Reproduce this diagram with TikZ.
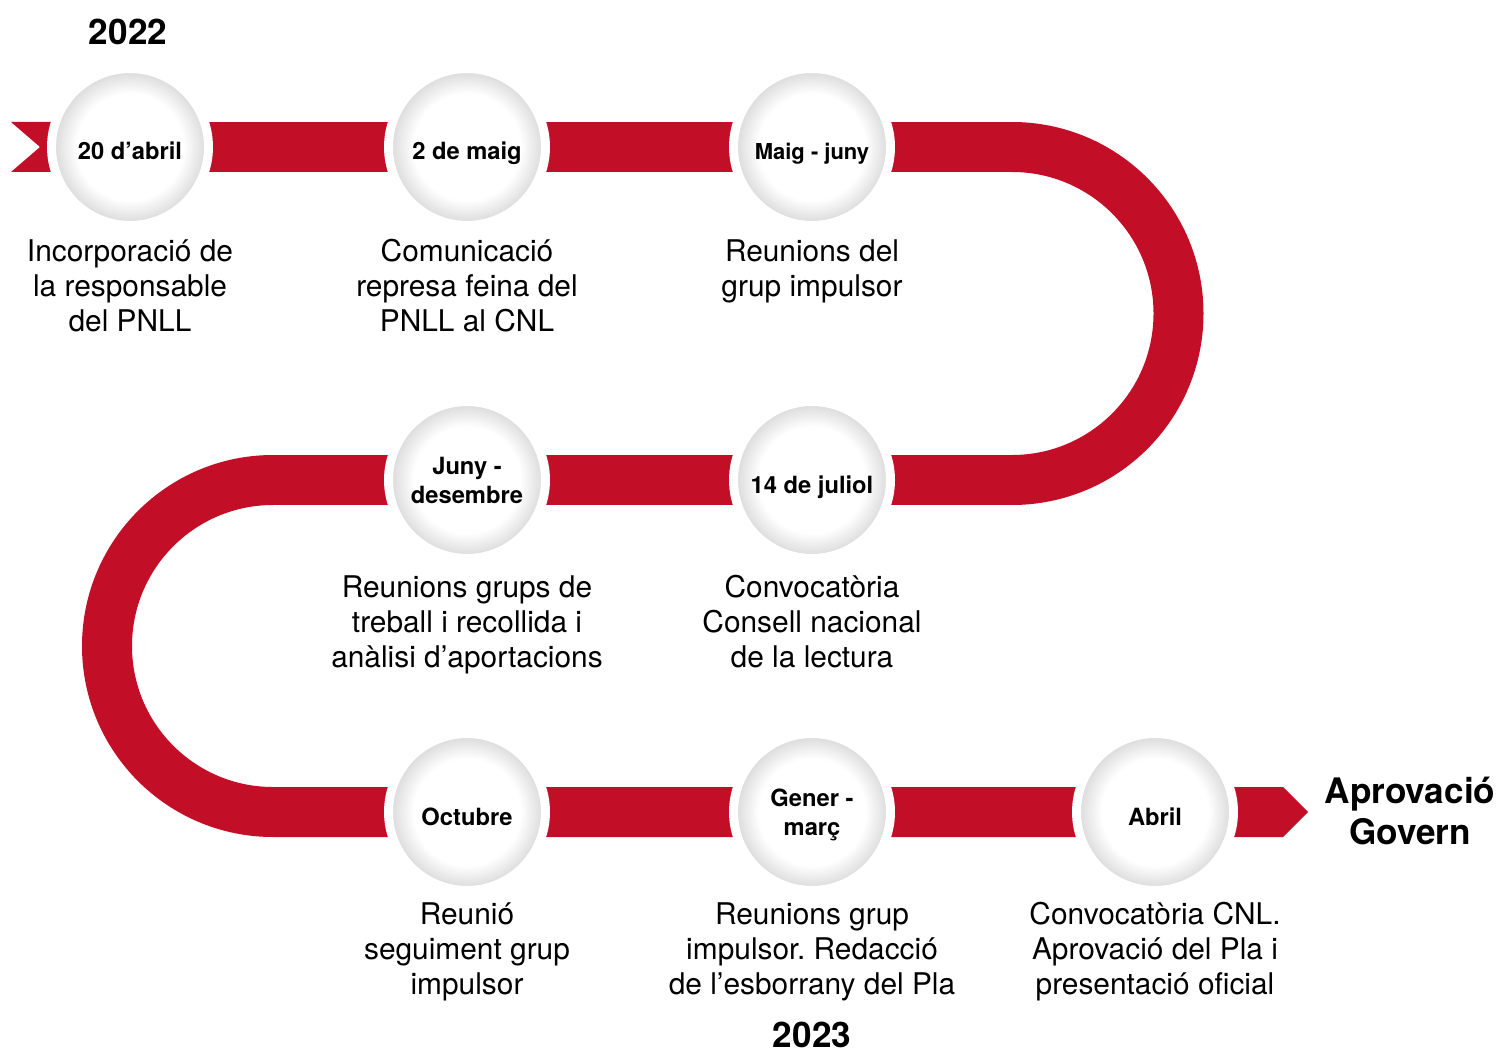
\documentclass[tikz,border=0pt]{standalone}
\usepackage{fontspec}
\setmainfont{TeX Gyre Heros}
\usepackage{tikz}
\usetikzlibrary{calc,backgrounds}
\definecolor{ribbonred}{RGB}{195,14,39}
\pgfdeclareradialshading{rim}{\pgfpoint{0bp}{0bp}}{color(0bp)=(white); color(17bp)=(white); color(23.6bp)=(black!13); color(25bp)=(black!13); color(50bp)=(black!13)}
\frenchspacing

\begin{document}
\begin{tikzpicture}[x=0.02cm, y=0.02cm]
	\tikzstyle{every node} = [inner sep=0, text=black]
	\tikzstyle{date} = [circle, shade, shading=rim, draw=white, line width=0.18cm, minimum size=3.14cm, align=center, font=\bfseries\fontsize{13.5}{16.5}\selectfont]
	\tikzstyle{oneline} = [text height=0.52cm, text depth=0pt]
	\tikzstyle{desc} = [align=center, font=\fontsize{17}{19.9}\selectfont]
	\tikzstyle{year} = [align=center, font=\bfseries\fontsize{20}{23.3}\selectfont]
	\tikzstyle{band} = [draw=ribbonred, line width=1cm]
\useasboundingbox (0,0) rectangle (1497,-1054);
\node[date, oneline] (1) at (130, -147) {20 d’abril};
\node[date, oneline] (2) at (467, -147) {2 de maig};
\node[date, oneline, font=\bfseries\fontsize{12.5}{15}\selectfont] (3) at (812, -147) {Maig - juny};
\node[date] (4) at (467, -480) {Juny -\\desembre};
\node[date, oneline] (5) at (812, -480) {14 de juliol};
\node[date, oneline] (6) at (467, -812) {Octubre};
\node[date, text depth=-0.2cm] (7) at (812, -812) {Gener -\\març};
\node[date, oneline] (8) at (1155, -812) {Abril};
\coordinate (9) at (1012, -147);
\coordinate (10) at (273, -480);
\begin{pgfonlayer}{background}
	\fill[ribbonred] (11,-122) -- (130,-122) -- (130,-172) -- (11,-172) -- (40,-147) -- cycle;
	\path[draw, band] (1.center) -- (2.center) -- (3.center) -- (9) arc[start angle=90, end angle=-90, radius=166.5]
		-- (5.center) -- (4.center) -- (10) arc[start angle=90, end angle=270, radius=166]
		-- (6.center) -- (7.center) -- (8.center);
	\fill[ribbonred] (1155,-787) -- (1283,-787) -- (1308,-812) -- (1283,-837) -- (1155,-837) -- cycle;
\end{pgfonlayer}
\node[desc] (d1) at (130, -286) {Incorporació de\\la responsable\\del PNLL};
\node[desc] (d2) at (467, -286) {Comunicació\\represa feina del\\PNLL al CNL};
\node[desc] (d3) at (812, -271) {Reunions del\\grup impulsor};
\node[desc] (d4) at (467, -625) {Reunions grups de\\treball i recollida i\\anàlisi d’aportacions};
\node[desc] (d5) at (812, -622) {Convocatòria\\Consell nacional\\de la lectura};
\node[desc] (d6) at (467, -952) {Reunió\\seguiment grup\\impulsor};
\node[desc] (d7) at (812, -952) {Reunions grup\\impulsor. Redacció\\de l’esborrany del Pla};
\node[desc] (d8) at (1155, -952) {Convocatòria CNL.\\Aprovació del Pla i\\presentació oficial};
\node[year] (y1) at (128, -32) {2022};
\node[year] (y2) at (812, -1035) {2023};
\node[year] (end) at (1410, -811) {Aprovació\\Govern};
\end{tikzpicture}
\end{document}
